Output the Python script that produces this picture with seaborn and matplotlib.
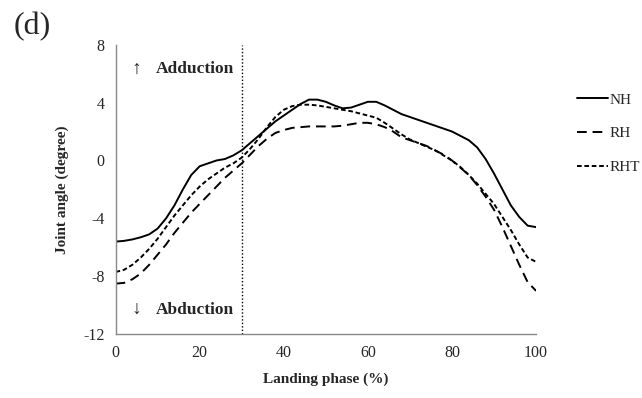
import numpy as np
import pandas as pd
import matplotlib
matplotlib.use("Agg")
import matplotlib.pyplot as plt
import seaborn as sns

# landing phase (%) and joint angle (degree) per condition
phase = list(range(0, 101, 2))
nh = [-5.6, -5.55, -5.45, -5.3, -5.1, -4.7, -4.0, -3.1, -2.0, -1.0, -0.4, -0.2, 0.0,
      0.1, 0.35, 0.7, 1.2, 1.7, 2.2, 2.7, 3.1, 3.5, 3.9, 4.2, 4.2, 4.05, 3.8, 3.6,
      3.65, 3.85, 4.05, 4.05, 3.8, 3.5, 3.2, 3.0, 2.8, 2.6, 2.4, 2.2, 2.0, 1.7, 1.4,
      0.9, 0.1, -0.9, -2.0, -3.1, -3.9, -4.5, -4.6]
rh = [-8.5, -8.45, -8.2, -7.8, -7.2, -6.5, -5.8, -5.0, -4.3, -3.6, -3.0, -2.4, -1.8,
      -1.2, -0.7, -0.2, 0.4, 1.0, 1.5, 1.9, 2.1, 2.25, 2.3, 2.35, 2.35, 2.35, 2.35,
      2.4, 2.5, 2.6, 2.6, 2.5, 2.3, 2.0, 1.6, 1.4, 1.2, 1.0, 0.7, 0.4, 0.0, -0.5,
      -1.0, -1.7, -2.5, -3.4, -4.6, -5.9, -7.2, -8.4, -9.0]
rht = [-7.7, -7.55, -7.2, -6.7, -6.1, -5.4, -4.6, -3.8, -3.1, -2.4, -1.8, -1.3, -0.9,
       -0.5, -0.2, 0.2, 0.8, 1.5, 2.3, 3.0, 3.5, 3.75, 3.85, 3.85, 3.8, 3.7, 3.6,
       3.5, 3.4, 3.25, 3.1, 2.95, 2.6, 2.2, 1.8, 1.45, 1.2, 0.95, 0.7, 0.35, 0.0,
       -0.45, -1.0, -1.6, -2.3, -3.0, -3.9, -4.8, -5.8, -6.7, -7.0]
groups = ["NH", "RH", "RHT"]

df = pd.DataFrame({
    "phase": phase * 3,
    "angle": nh + rh + rht,
    "group": [g for g in groups for _ in phase],
})

sns.set_style("white")
plt.rcParams["font.family"] = ["Liberation Serif", "DejaVu Serif"]
plt.rcParams["axes.unicode_minus"] = False

fig, ax = plt.subplots(figsize=(6.42, 3.98), dpi=100)
fig.subplots_adjust(left=0.18, right=0.835, top=0.888, bottom=0.16)

dashes = {"NH": "", "RH": (5, 3), "RHT": (2.4, 1.4)}
sns.lineplot(data=df, x="phase", y="angle", hue="group", style="group",
             palette=["black"] * 3, dashes=dashes, linewidth=1.4, ax=ax)

ax.axvline(30, color="black", linestyle=(0, (1, 1.5)), linewidth=1.0)

ax.set_xlim(0, 100)
ax.set_ylim(-12, 8)
ax.set_xticks(range(0, 101, 20))
ax.set_yticks(range(-12, 9, 4))
ax.tick_params(axis="y", length=4, width=0.8, color="#888888", labelsize=11.5, pad=4)
ax.tick_params(axis="x", length=0, labelsize=11.5, pad=8)
sns.despine(ax=ax)
for s in ["left", "bottom"]:
    ax.spines[s].set_color("#888888")
    ax.spines[s].set_linewidth(1)

ax.set_xlabel("Landing phase (%)", fontsize=11, fontweight="bold", labelpad=8)
ax.set_ylabel("Joint angle (degree)", fontsize=11, fontweight="bold", labelpad=10)

ax.text(5, 6.3, "↑", fontsize=14, va="center", ha="center")
ax.text(9.5, 6.3, "Adduction", fontsize=12.5, fontweight="bold", va="center")
ax.text(5, -10.3, "↓", fontsize=14, va="center", ha="center")
ax.text(9.5, -10.3, "Abduction", fontsize=12.5, fontweight="bold", va="center")

fig.text(0.022, 0.915, "(d)", fontsize=23)

ax.legend(loc="upper left", bbox_to_anchor=(1.065, 0.88), frameon=False,
          fontsize=11, handlelength=2.0, handletextpad=0.1, labelspacing=1.3)

fig.savefig("out.png", dpi=100)
